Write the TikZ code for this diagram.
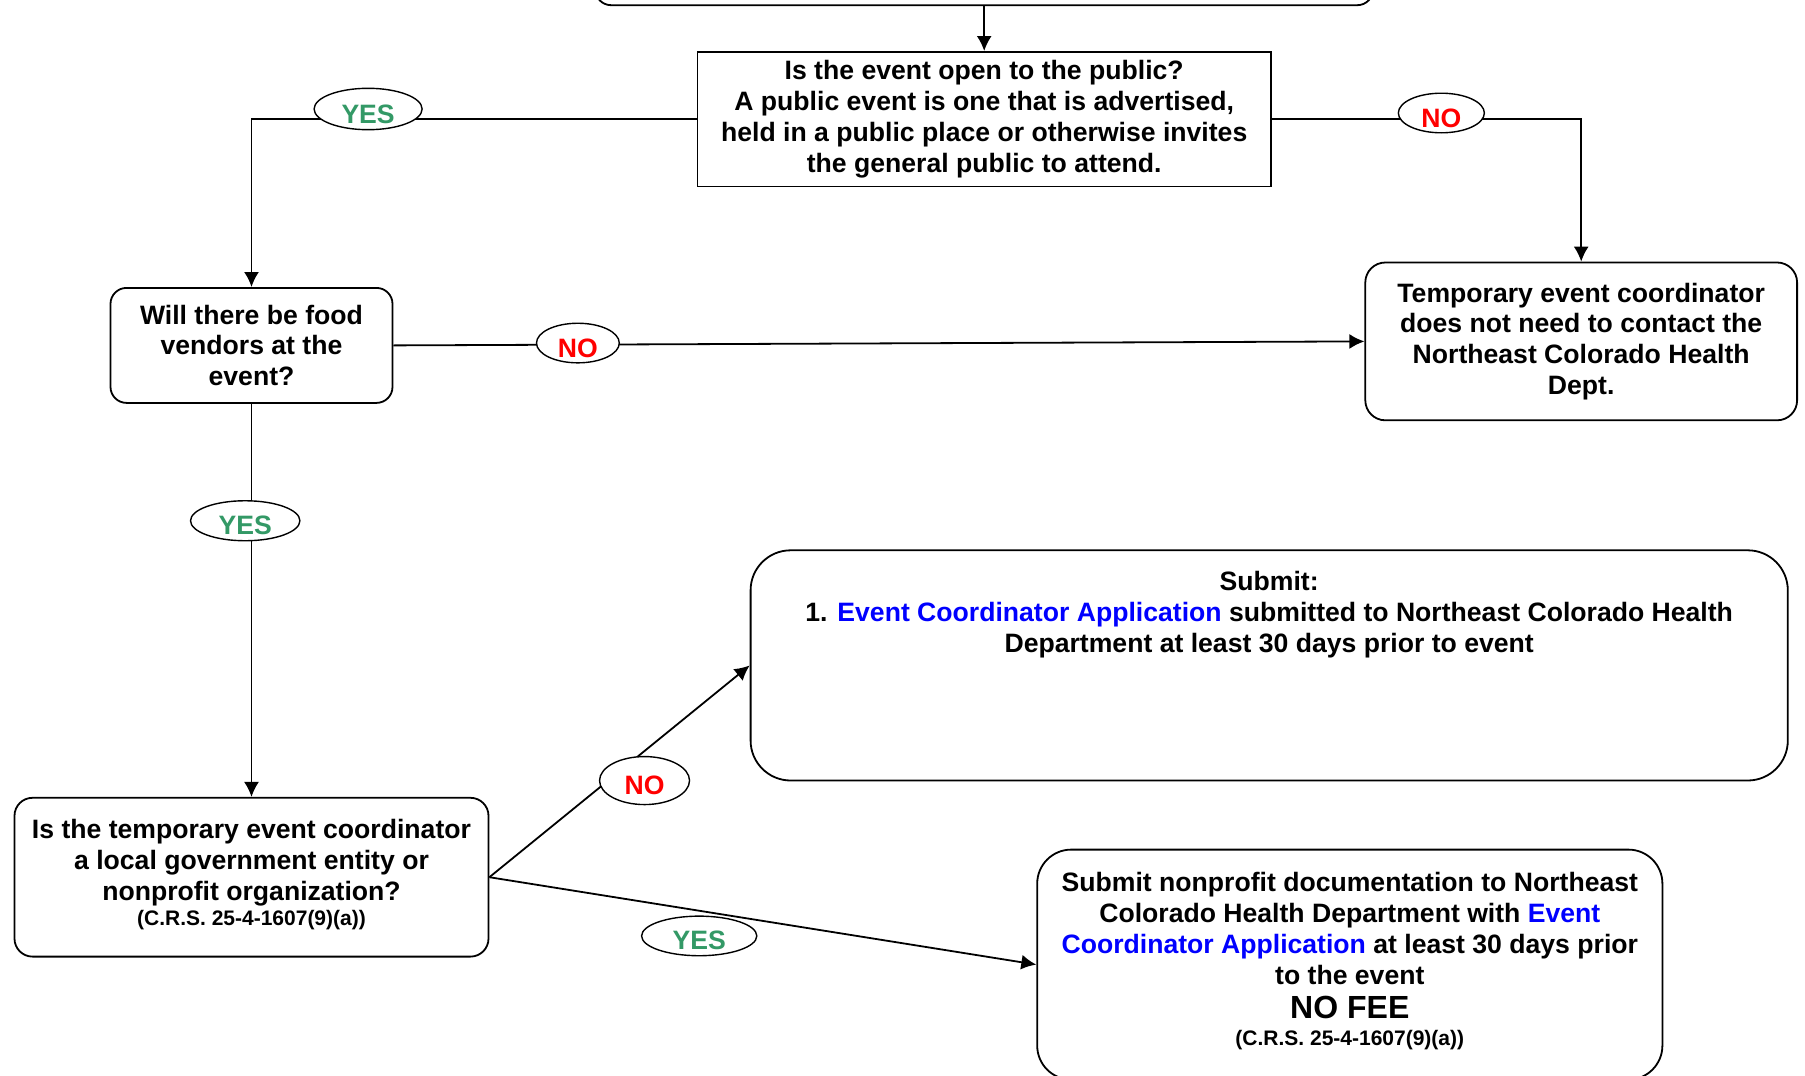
\documentclass[tikz,border=0pt]{standalone}
\usepackage{fontspec}
\setmainfont{Liberation Sans}
\usepackage{tikz}
\usetikzlibrary{shapes.geometric, arrows.meta}

\definecolor{yesgreen}{RGB}{51,153,102}
\definecolor{appblue}{RGB}{0,0,255}
\newcommand{\boxfont}{\fontsize{13.3}{15.4}\selectfont\bfseries}
\newcommand{\reffont}{\fontsize{10.5}{12.5}\selectfont\bfseries}

\tikzstyle{question} = [rectangle, 
draw=black, 
line width=0.9pt, 
inner sep=4pt, 
align=center, 
font=\boxfont]
\tikzstyle{decision} = [question, rounded corners=8pt]
\tikzstyle{answer} = [ellipse, 
draw=black, 
fill=white, 
line width=0.7pt, 
inner sep=0pt, 
text height=14pt, 
text depth=0pt, 
minimum height=19.6pt, 
font=\boxfont]
\tikzstyle{yeslabel} = [answer, text=yesgreen, minimum width=54pt]
\tikzstyle{nolabel} = [answer, text=red, minimum width=42pt]
\tikzstyle{link} = [-{Latex[length=7.5pt, width=7.5pt]}, line width=0.9pt]

\begin{document}
\begin{tikzpicture}[node distance=50pt]
\useasboundingbox (0,0) rectangle (902.5pt,-538pt);

\node (q1) [question, minimum width=286.7pt, minimum height=67.3pt] at (492.1pt,-59.6pt) {Is the event open to the public?\\A public event is one that is advertised,\\held in a public place or otherwise invites\\the general public to attend.};
\node (top) [decision, minimum width=389pt, minimum height=50pt, above of=q1, yshift=32pt] {};
\draw[link] (top) -- (q1);

\node (vend) [decision, minimum width=141pt, minimum height=57.5pt, left of=q1, xshift=-316.35pt, yshift=-113.1pt] {Will there be food\\vendors at the\\event?};
\node (temp) [decision, rounded corners=10pt, minimum width=215.9pt, minimum height=78.9pt, right of=q1, xshift=248.5pt, yshift=-111.1pt] {Temporary event coordinator\\does not need to contact the\\Northeast Colorado Health\\Dept.};
\draw[link] (q1.west) -| node[yeslabel, pos=0.369, yshift=5.1pt, minimum height=20.7pt] (yes1) {YES} (vend.north);
\draw[link] (q1.east) -| node[nolabel, pos=0.274, yshift=3.1pt, minimum width=43pt] (no1) {NO} (temp.north);
\draw[link] (vend.east) -- node[nolabel, pos=0.19, yshift=0.8pt, minimum width=41.4pt] (no2) {NO} (temp.west);

\node (q3) [decision, rounded corners=9pt, minimum width=237pt, minimum height=79.4pt, below of=vend, yshift=-215.9pt] {Is the temporary event coordinator\\a local government entity or\\nonprofit organization?\\[-2.7pt]{\reffont (C.R.S. 25-4-1607(9)(a))}\\[-11pt]\mbox{}};
\draw[link] (vend.south) -- node[yeslabel, pos=0.2975, xshift=-3.15pt, minimum width=54.7pt, minimum height=20pt] (yes2) {YES} (q3.north);

\node (sub) [decision, rounded corners=20pt, minimum width=518.6pt, minimum height=115.1pt, right of=q3, xshift=458.85pt, yshift=105.9pt] {Submit:\\1. \textcolor{appblue}{Event Coordinator Application} submitted to Northeast Colorado Health\\Department at least 30 days prior to event\\[38pt]\mbox{}};
\node (np) [decision, rounded corners=17pt, minimum width=312.6pt, minimum height=115pt, right of=q3, xshift=499.15pt, yshift=-43.7pt] {Submit nonprofit documentation to Northeast\\Colorado Health Department with \textcolor{appblue}{Event}\\\textcolor{appblue}{Coordinator Application} at least 30 days prior\\to the event\\[1.6pt]{\fontsize{16}{18}\selectfont NO FEE}\\[-2pt]{\reffont (C.R.S. 25-4-1607(9)(a))}\\[-9.6pt]\mbox{}};
\draw[link] (q3.east) -- node[nolabel, pos=0.596, yshift=-14.8pt, minimum width=45pt, minimum height=24pt] (no3) {NO} (sub.west);
\draw[link] (q3.east) -- node[yeslabel, pos=0.3836, yshift=-12.6pt, minimum width=57.6pt] (yes3) {YES} (np.west);

\end{tikzpicture}
\end{document}
